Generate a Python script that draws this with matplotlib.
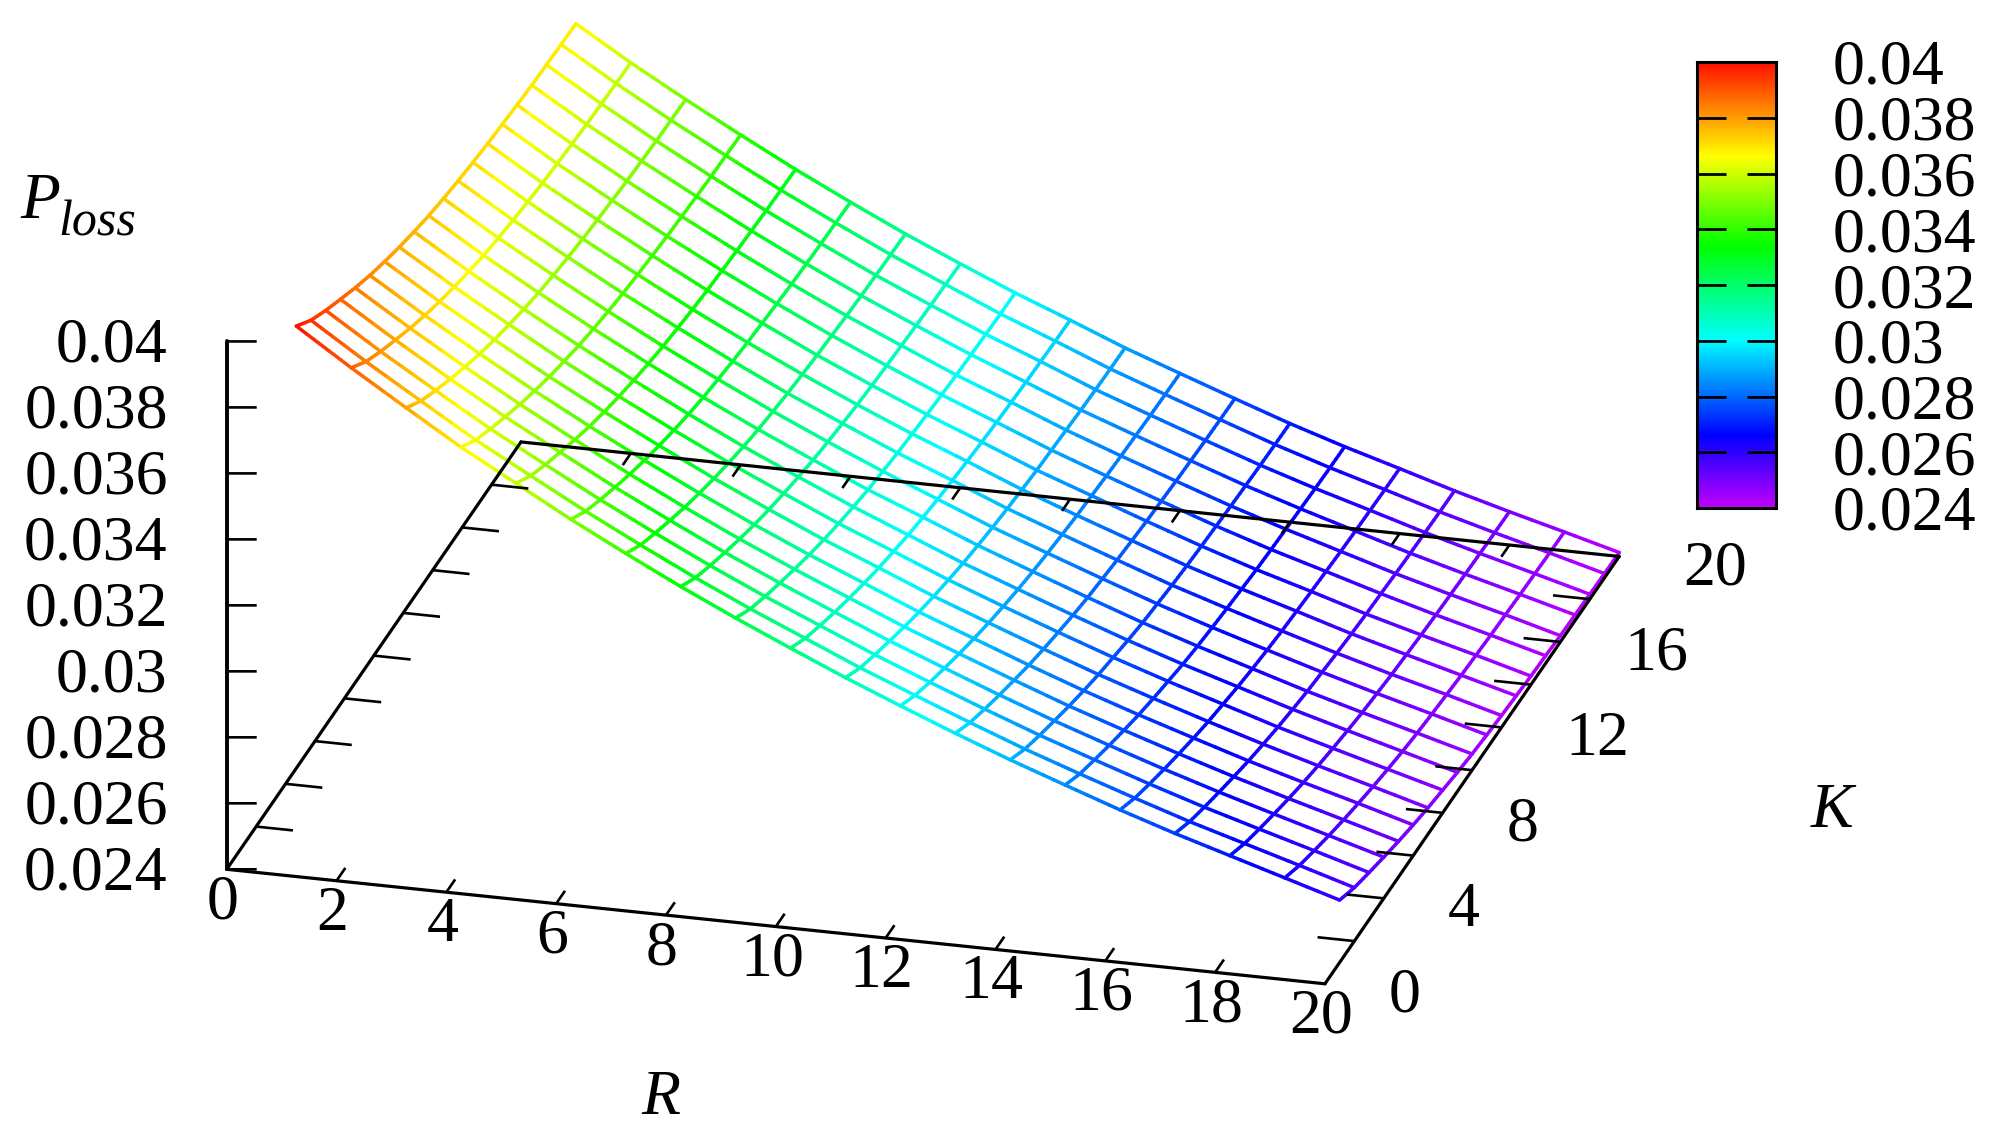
import numpy as np
import matplotlib
matplotlib.use("Agg")
import matplotlib.pyplot as plt
from matplotlib.colors import LinearSegmentedColormap, Normalize
from mpl_toolkits.mplot3d import proj3d
from mpl_toolkits.mplot3d.art3d import Line3DCollection

plt.rcParams['font.family'] = ['Liberation Serif', 'DejaVu Serif']

R_GRID = list(range(1, 21))
K_GRID = list(range(1, 21))
# one row per K value, columns follow R_GRID
P_LOSS = [
 [.03999,.03890,.03786,.03684,.03592,.03500,.03414,.03331,.03253,.03179,.03107,.03039,.02973,.02910,.02851,.02793,.02739,.02689,.02639,.02589],
 [.03952,.03844,.03742,.03641,.03550,.03460,.03375,.03293,.03216,.03144,.03072,.03006,.02941,.02878,.02820,.02764,.02710,.02661,.02612,.02562],
 [.03917,.03810,.03709,.03610,.03519,.03430,.03346,.03265,.03189,.03118,.03047,.02981,.02917,.02855,.02798,.02742,.02689,.02640,.02592,.02543],
 [.03886,.03780,.03679,.03582,.03492,.03403,.03320,.03240,.03165,.03094,.03024,.02959,.02895,.02834,.02777,.02722,.02670,.02621,.02573,.02525],
 [.03856,.03751,.03651,.03555,.03465,.03378,.03295,.03216,.03142,.03072,.03002,.02938,.02875,.02814,.02758,.02704,.02652,.02603,.02556,.02508],
 [.03829,.03725,.03626,.03531,.03441,.03355,.03273,.03195,.03121,.03052,.02982,.02919,.02856,.02796,.02740,.02687,.02635,.02587,.02541,.02493],
 [.03806,.03702,.03604,.03509,.03420,.03335,.03253,.03176,.03102,.03034,.02965,.02902,.02840,.02780,.02725,.02672,.02621,.02573,.02527,.02480],
 [.03785,.03682,.03585,.03491,.03402,.03317,.03236,.03160,.03086,.03019,.02950,.02887,.02826,.02767,.02712,.02660,.02608,.02561,.02515,.02469],
 [.03767,.03664,.03567,.03474,.03386,.03301,.03220,.03145,.03072,.03004,.02936,.02874,.02813,.02754,.02699,.02648,.02597,.02550,.02504,.02458],
 [.03751,.03648,.03552,.03460,.03372,.03287,.03207,.03132,.03059,.02993,.02925,.02863,.02802,.02743,.02689,.02638,.02587,.02540,.02495,.02449],
 [.03738,.03636,.03540,.03448,.03360,.03277,.03197,.03122,.03050,.02983,.02915,.02854,.02794,.02735,.02681,.02630,.02580,.02533,.02488,.02442],
 [.03727,.03625,.03530,.03438,.03351,.03267,.03187,.03113,.03041,.02975,.02907,.02846,.02786,.02727,.02674,.02623,.02573,.02526,.02482,.02436],
 [.03718,.03616,.03521,.03430,.03342,.03259,.03180,.03105,.03034,.02968,.02900,.02839,.02780,.02721,.02668,.02618,.02567,.02521,.02476,.02431],
 [.03710,.03608,.03514,.03423,.03335,.03253,.03173,.03099,.03028,.02962,.02894,.02834,.02774,.02716,.02662,.02613,.02562,.02516,.02472,.02426],
 [.03704,.03602,.03508,.03417,.03330,.03247,.03168,.03094,.03023,.02957,.02890,.02829,.02770,.02712,.02658,.02609,.02559,.02512,.02468,.02423],
 [.03698,.03597,.03502,.03412,.03325,.03242,.03163,.03090,.03018,.02953,.02886,.02825,.02766,.02708,.02655,.02605,.02555,.02509,.02465,.02419],
 [.03693,.03592,.03498,.03408,.03321,.03238,.03159,.03086,.03015,.02949,.02882,.02822,.02763,.02705,.02652,.02602,.02552,.02506,.02462,.02417],
 [.03690,.03589,.03494,.03404,.03317,.03235,.03156,.03083,.03012,.02947,.02879,.02819,.02760,.02702,.02649,.02600,.02550,.02504,.02460,.02415],
 [.03687,.03586,.03492,.03402,.03315,.03233,.03154,.03081,.03009,.02944,.02877,.02817,.02758,.02700,.02647,.02598,.02548,.02502,.02458,.02413],
 [.03685,.03584,.03490,.03400,.03313,.03231,.03152,.03079,.03008,.02943,.02876,.02816,.02757,.02699,.02646,.02597,.02547,.02501,.02457,.02412],
]
R_TICKS = [0, 2, 4, 6, 8, 10, 12, 14, 16, 18, 20]
K_TICKS = [0, 2, 4, 6, 8, 10, 12, 14, 16, 18, 20]
K_LABELLED = [0, 4, 8, 12, 16, 20]
Z_TICKS = [0.024, 0.026, 0.028, 0.03, 0.032, 0.034, 0.036, 0.038, 0.04]
Z_LABELS = ['0.024', '0.026', '0.028', '0.03', '0.032', '0.034', '0.036', '0.038', '0.04']

W, H = 2005, 1143
FS = 46
fig = plt.figure(figsize=(W / 100, H / 100), dpi=100, facecolor='white')

cmap = LinearSegmentedColormap.from_list('tec', [
    (0.0, '#c000ff'), (0.162, '#0000ff'), (0.376, '#00ffff'),
    (0.587, '#00ff00'), (0.79, '#ffff00'), (1.0, '#ff1000')])
norm = Normalize(0.024, 0.04)

# --- 3D axes, parallel projection
ax = fig.add_axes([0.1, 0.0, 0.8, 0.8 * W / H], projection='3d', proj_type='ortho', computed_zorder=False)
ax.view_init(elev=22.9, azim=-75)
ax.set_box_aspect((1, 1, 0.504))
ax.set_xlim(0, 20); ax.set_ylim(0, 20); ax.set_zlim(0.024, 0.04)
ax.set_axis_off()
ax.patch.set_alpha(0)


def to_display(r, k, z):
    xp, yp, _ = proj3d.proj_transform(r, k, z, ax.get_proj())
    return ax.transData.transform((xp, yp))


# align the projected box with the frame: data origin and the far end of R
fig.canvas.draw()
TARGET_O = np.array([226.7, H - 869.3])
TARGET_R = np.array([1325.0, H - 983.3])
for _ in range(3):
    p0 = to_display(0, 0, 0.024)
    p1 = to_display(20, 0, 0.024)
    s = np.linalg.norm(TARGET_R - TARGET_O) / np.linalg.norm(p1 - p0)
    b = ax.get_position(original=True)
    x0, y0, side = b.x0 * W, b.y0 * H, b.width * W
    new_side = side * s
    nx0 = TARGET_O[0] - (p0[0] - x0) * s
    ny0 = TARGET_O[1] - (p0[1] - y0) * s
    ax.set_position([nx0 / W, ny0 / H, new_side / W, new_side / H])
    fig.canvas.draw()

# --- mesh
Rg = np.array(R_GRID, float)
Kg = np.array(K_GRID, float)
Z = np.array(P_LOSS)
segs, vals = [], []
SUB = 5
def add_line(rs, ks, zs):
    for a in range(len(rs) - 1):
        for t0, t1 in zip(np.linspace(0, 1, SUB, endpoint=False), np.linspace(0, 1, SUB + 1)[1:]):
            za = zs[a] + (zs[a + 1] - zs[a]) * t0
            zb = zs[a] + (zs[a + 1] - zs[a]) * t1
            ra = rs[a] + (rs[a + 1] - rs[a]) * t0
            rb = rs[a] + (rs[a + 1] - rs[a]) * t1
            ka = ks[a] + (ks[a + 1] - ks[a]) * t0
            kb = ks[a] + (ks[a + 1] - ks[a]) * t1
            segs.append([(ra, ka, za), (rb, kb, zb)])
            vals.append((za + zb) / 2)
for i, k in enumerate(Kg):
    add_line(Rg, np.full_like(Rg, k), Z[i, :])
for j, r in enumerate(Rg):
    add_line(np.full_like(Kg, r), Kg, Z[:, j])
lc = Line3DCollection(segs, colors=cmap(norm(np.array(vals))), linewidths=2.5, capstyle='round', zorder=1)
ax.add_collection3d(lc, autolim=False)

# --- box axes and ticks
z0 = Z_TICKS[0]
AX = dict(color='black', lw=2.3, zorder=3, solid_capstyle='round')
TK = dict(color='black', lw=1.9, zorder=3, solid_capstyle='butt')
ax.plot([0, 20], [0, 0], [z0, z0], **AX)
ax.plot([0, 20], [20, 20], [z0, z0], **AX)
ax.plot([0, 0], [0, 20], [z0, z0], **AX)
ax.plot([20, 20], [0, 20], [z0, z0], **AX)
ax.plot([0, 0], [0, 0], [Z_TICKS[0], Z_TICKS[-1]], color='black', lw=2.8, zorder=3, solid_capstyle='round')
for r in R_TICKS[1:-1]:
    ax.plot([r, r], [0, 0.6], [z0, z0], **TK)
    ax.plot([r, r], [20, 19.45], [z0, z0], **TK)
for k in K_TICKS[1:-1]:
    ax.plot([0, 0.67], [k, k], [z0, z0], **TK)
    ax.plot([20, 19.33], [k, k], [z0, z0], **TK)
for z in Z_TICKS:
    ax.plot([0, 0.51], [0, 0.136], [z, z], **TK)


def label(r, k, z, text, dx, dy, ha='center'):
    xp, yp, _ = proj3d.proj_transform(r, k, z, ax.get_proj())
    ax.annotate(text, (xp, yp), xytext=(dx, -dy), textcoords='offset pixels', ha=ha, va='center',
                fontsize=FS, color='black', annotation_clip=False)


for r in R_TICKS:
    label(r, 0, z0, str(r), -4, 34)
for k in K_LABELLED:
    label(20, k, z0, str(k), 64, 13, ha='left')
for z, t in zip(Z_TICKS, Z_LABELS):
    label(0, 0, z, t, -59, 5, ha='right')

fig.text(661 / W, 1 - 1099 / H, 'R', style='italic', fontsize=FS, ha='center', va='center')
fig.text(1832 / W, 1 - 812 / H, 'K', style='italic', fontsize=FS, ha='center', va='center')
fig.text(20 / W, 1 - 218 / H, 'P', style='italic', fontsize=47, ha='left', va='baseline')
fig.text(58 / W, 1 - 236 / H, 'loss', style='italic', fontsize=36, ha='left', va='baseline')

# --- colour bar
cx0, cx1, cy0, cy1 = 1697.0, 1776.0, 62.0, 508.0
cax = fig.add_axes([cx0 / W, 1 - cy1 / H, (cx1 - cx0) / W, (cy1 - cy0) / H])
grad = np.linspace(0.024, 0.04, 512).reshape(-1, 1)
cax.imshow(grad, origin='lower', aspect='auto', extent=[0, 1, 0.024, 0.04], cmap=cmap, norm=norm)
for z in Z_TICKS[1:-1]:
    cax.plot([0, 0.37], [z, z], color='black', lw=2.0, solid_capstyle='butt')
    cax.plot([0.63, 1], [z, z], color='black', lw=2.0, solid_capstyle='butt')
cax.set_xlim(0, 1); cax.set_ylim(0.024, 0.04)
cax.set_xticks([])
cax.yaxis.tick_right()
cax.set_yticks(Z_TICKS)
cax.set_yticklabels(Z_LABELS, fontsize=FS, ha='left')
cax.tick_params(axis='y', length=0, pad=41)
for sp in cax.spines.values():
    sp.set_linewidth(2.2)
    sp.set_color('black')

fig.savefig('out.png', dpi=100, facecolor='white')
